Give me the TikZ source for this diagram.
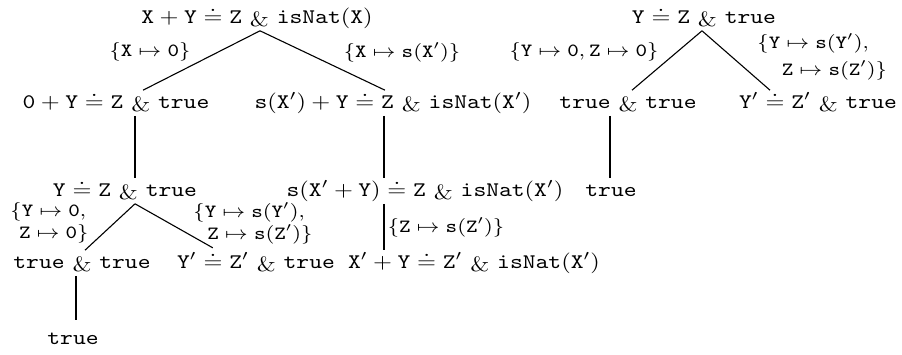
\documentclass[tikz,border=0pt]{standalone}
\usepackage{amsmath,amssymb}
\newcommand{\tnd}{\mathbin{\kern1pt\raisebox{-1.5pt}{$\mathit{\&}$}\kern1pt}}
\newcommand{\tv}[1]{\mathtt{#1}}
\newcommand{\sq}[1]{\scalebox{1}[0.85]{#1}}
\begin{document}
\begin{tikzpicture}[x=0.41pt,y=-0.41pt,
  term/.style={inner sep=0pt,outer sep=1pt,text height=6.4pt,text depth=2.1pt},
  lbl/.style={inner sep=0pt,font=\small},
  diag/.style={line width=0.45pt},
  vert/.style={line width=1pt}]
\useasboundingbox (0,0) rectangle (902,354);
% tree 1
\node[term] (r1) at (257,18) {\sq{$\tv{X}+\tv{Y}\doteq\tv{Z}\tnd\tv{isNat}(\tv{X})$}};
\node[term] (a) at (116,103) {\sq{$\tv{0}+\tv{Y}\doteq\tv{Z}\tnd\tv{true}$}};
\node[term] (b) at (393,103) {\sq{$\tv{s}(\tv{X}')+\tv{Y}\doteq\tv{Z}\tnd\tv{isNat}(\tv{X}')$}};
\node[term] (c) at (125,191) {\sq{$\tv{Y}\doteq\tv{Z}\tnd\tv{true}$}};
\node[term] (d) at (425,191) {\sq{$\tv{s}(\tv{X}'+\tv{Y})\doteq\tv{Z}\tnd\tv{isNat}(\tv{X}')$}};
\node[term] (e) at (82,263) {\sq{$\tv{true}\tnd\tv{true}$}};
\node[term] (f) at (256,263) {\sq{$\tv{Y}'\doteq\tv{Z}'\tnd\tv{true}$}};
\node[term] (g) at (474,263) {\sq{$\tv{X}'+\tv{Y}\doteq\tv{Z}'\tnd\tv{isNat}(\tv{X}')$}};
\node[term] (h) at (73,339) {\sq{$\tv{true}$}};
% tree 2
\node[term] (r2) at (704,18) {\sq{$\tv{Y}\doteq\tv{Z}\tnd\tv{true}$}};
\node[term] (i) at (628,103) {\sq{$\tv{true}\tnd\tv{true}$}};
\node[term] (j) at (818,103) {\sq{$\tv{Y}'\doteq\tv{Z}'\tnd\tv{true}$}};
\node[term] (k) at (611,191) {\sq{$\tv{true}$}};
% labels
\node[lbl] (l1) at (150,52) {\sq{$\{\tv{X}\mapsto\tv{0}\}$}};
\node[lbl] (l2) at (402,52) {\sq{$\{\tv{X}\mapsto\tv{s}(\tv{X}')\}$}};
\node[lbl,align=left,anchor=west] (l3) at (10,223) {\sq{$\{\tv{Y}\mapsto\tv{0},$}\\[-2pt]\hspace*{3.5pt}\sq{$\tv{Z}\mapsto\tv{0}\}$}};
\node[lbl,align=left,anchor=west] (l4) at (193,223) {\sq{$\{\tv{Y}\mapsto\tv{s}(\tv{Y}'),$}\\[-2pt]\hspace*{5.7pt}\sq{$\tv{Z}\mapsto\tv{s}(\tv{Z}')\}$}};
\node[lbl] (l5) at (446,227) {\sq{$\{\tv{Z}\mapsto\tv{s}(\tv{Z}')\}$}};
\node[lbl] (l6) at (584,52) {\sq{$\{\tv{Y}\mapsto\tv{0},\tv{Z}\mapsto\tv{0}\}$}};
\node[lbl,align=left,anchor=west] (l7) at (757,57) {\sq{$\{\tv{Y}\mapsto\tv{s}(\tv{Y}'),$}\\[0pt]\hspace*{10pt}\sq{$\tv{Z}\mapsto\tv{s}(\tv{Z}')\}$}};
% edges
\draw[diag] (r1.south -| 260,0) -- (a.north -| 143,0);
\draw[diag] (r1.south -| 260,0) -- (b.north -| 385,0);
\draw[vert] (a.south -| 135,0) -- (c.north -| 135,0);
\draw[vert] (b.south -| 384,0) -- (d.north -| 384,0);
\draw[diag] (c.south -| 135,0) -- (e.north -| 85,0);
\draw[diag,shorten >=2pt] (c.south -| 135,0) -- (f.north -| 217,0);
\draw[vert] (d.south -| 384,0) -- (g.north -| 384,0);
\draw[vert,shorten >=2.5pt] (e.south -| 76,0) -- (h.north -| 76,0);
\draw[diag] (r2.south -| 702,0) -- (i.north -| 632,0);
\draw[diag] (r2.south -| 702,0) -- (j.north -| 770,0);
\draw[vert] (i.south -| 610,0) -- (k.north -| 610,0);
\end{tikzpicture}
\end{document}
